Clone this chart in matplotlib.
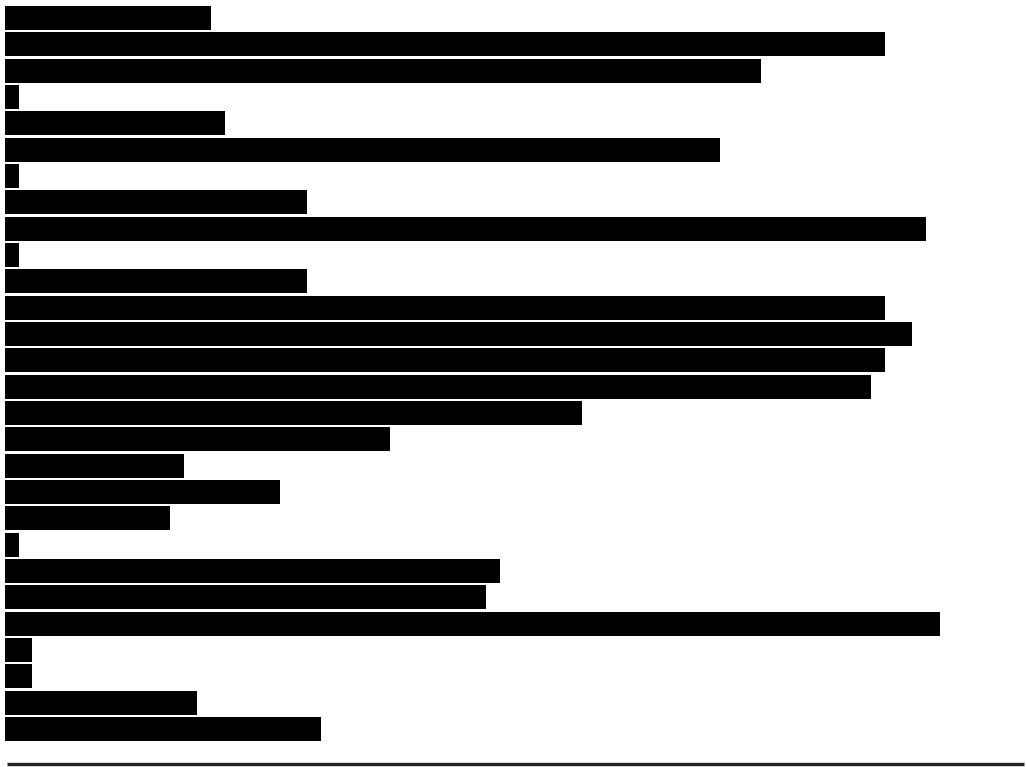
import matplotlib
matplotlib.use("Agg")
import matplotlib.pyplot as plt
from matplotlib.lines import Line2D

categories = [f"c{i+1}" for i in range(28)]
values = [15, 64, 55, 1, 16, 52, 1, 22, 67, 1, 22, 64, 66, 64, 63, 42,
          28, 13, 20, 12, 1, 36, 35, 68, 2, 2, 14, 23]

W, H = 1026, 767
fig = plt.figure(figsize=(W / 100, H / 100), dpi=100)
fig.patch.set_facecolor("white")

top_px, bot_px = 4.83, 742.2
left_px, right_px = 4.8, 1024
ax = fig.add_axes([left_px / W, 1 - bot_px / H, (right_px - left_px) / W, (bot_px - top_px) / H])
ypos = list(range(len(categories)))
ax.barh(ypos, values, height=0.92, color="black", edgecolor="none")
ax.set_ylim(len(categories) - 0.5, -0.5)
ax.set_xlim(0, (right_px - left_px) / 13.75)
ax.axis("off")

y_line = 1 - 763.5 / H
fig.add_artist(Line2D([7 / W, 1024 / W], [y_line, y_line], transform=fig.transFigure,
                      color="#222222", linewidth=2.4, solid_capstyle="butt"))

fig.savefig("out.png", dpi=100, facecolor="white")
